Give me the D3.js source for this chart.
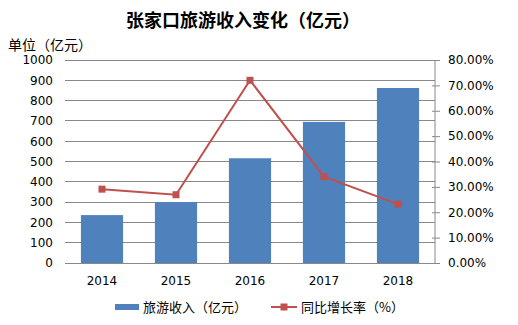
<!DOCTYPE html>
<html><head><meta charset="utf-8">
<script src="https://cdn.jsdelivr.net/npm/d3@7"></script>
<style>body{margin:0;background:#fff}svg{font-family:"Noto Sans CJK SC","DejaVu Sans",sans-serif}</style>
</head><body>
<script>
const years = ["2014","2015","2016","2017","2018"];
const revenue = [236, 300, 516, 695, 862];
const growth = [29.1, 26.9, 72.0, 34.0, 23.2];
const leftTicks = [0,100,200,300,400,500,600,700,800,900,1000];
const rightTicks = [0,10,20,30,40,50,60,70,80];

const W = 518, H = 325;
const m = {l:65, r:83, t:60, b:62};
const svg = d3.select("body").append("svg").attr("width",W).attr("height",H);
const x = d3.scaleBand().domain(years).range([m.l, W-m.r]).paddingInner(0.43).paddingOuter(0.215);
const y = d3.scaleLinear().domain([0,1000]).range([H-m.b, m.t]);
const y2 = d3.scaleLinear().domain([0,80]).range([H-m.b, m.t]);

svg.append("text").attr("x",243).attr("y",27).attr("text-anchor","middle")
  .attr("font-size",18).attr("font-weight","bold").attr("fill","#000").text("张家口旅游收入变化（亿元）");
svg.append("text").attr("x",8).attr("y",50).attr("font-size",14).attr("fill","#000").text("单位（亿元）");

// grid
svg.append("g").selectAll("line").data(leftTicks.slice(1)).join("line")
  .attr("x1",m.l).attr("x2",W-m.r).attr("y1",d=>y(d)).attr("y2",d=>y(d))
  .attr("stroke","#888").attr("stroke-width",1).attr("shape-rendering","crispEdges");

// left axis
const gl = svg.append("g").attr("transform",`translate(${m.l},0)`)
  .call(d3.axisLeft(y).tickValues(leftTicks).tickSize(0).tickPadding(12).tickFormat(d3.format("d")));
gl.select(".domain").remove();
gl.selectAll("text").attr("font-size",12).attr("fill","#000").attr("font-family","Verdana, DejaVu Sans, sans-serif");

// right axis
const gr = svg.append("g").attr("transform",`translate(${W-m.r},0)`)
  .call(d3.axisRight(y2).tickValues(rightTicks).tickSize(5).tickPadding(8).tickFormat(d=>d.toFixed(2)+"%"));
gr.select(".domain").attr("stroke","#888").attr("d",`M0,${y2(80)}V${y2(0)}`);
gr.selectAll(".tick line").attr("stroke","#888").attr("x1",-3);
gr.selectAll("text").attr("font-size",12).attr("fill","#000").attr("font-family","Verdana, DejaVu Sans, sans-serif");

// bars
svg.append("g").selectAll("rect").data(revenue).join("rect")
  .attr("x",(d,i)=>x(years[i])).attr("width",x.bandwidth())
  .attr("y",d=>y(d)).attr("height",d=>y(0)-y(d)).attr("fill","#4F81BD");

// x axis
svg.append("line").attr("x1",m.l).attr("x2",W-m.r).attr("y1",y(0)).attr("y2",y(0))
  .attr("stroke","#888").attr("shape-rendering","crispEdges");
svg.append("g").selectAll("text").data(years).join("text")
  .attr("x",d=>x(d)+x.bandwidth()/2).attr("y",y(0)+22).attr("text-anchor","middle")
  .attr("font-size",12).attr("font-family","Verdana, DejaVu Sans, sans-serif").text(d=>d);

// line
const line = d3.line().x((d,i)=>x(years[i])+x.bandwidth()/2).y(d=>y2(d));
svg.append("path").datum(growth).attr("d",line).attr("fill","none").attr("stroke","#C0504D").attr("stroke-width",2);
svg.append("g").selectAll("rect").data(growth).join("rect")
  .attr("x",(d,i)=>x(years[i])+x.bandwidth()/2-3.5).attr("y",d=>y2(d)-3.5)
  .attr("width",7).attr("height",7).attr("fill","#C0504D");

// legend
const ly = 307;
svg.append("rect").attr("x",115).attr("y",ly-3).attr("width",24).attr("height",6).attr("fill","#4F81BD");
svg.append("text").attr("x",143).attr("y",ly+5).attr("font-size",13).text("旅游收入（亿元）");
svg.append("line").attr("x1",271).attr("x2",297).attr("y1",ly).attr("y2",ly).attr("stroke","#C0504D").attr("stroke-width",2);
svg.append("rect").attr("x",280.5).attr("y",ly-3.5).attr("width",7).attr("height",7).attr("fill","#C0504D");
svg.append("text").attr("x",301).attr("y",ly+5).attr("font-size",13).text("同比增长率（%）");
</script>
</body></html>
